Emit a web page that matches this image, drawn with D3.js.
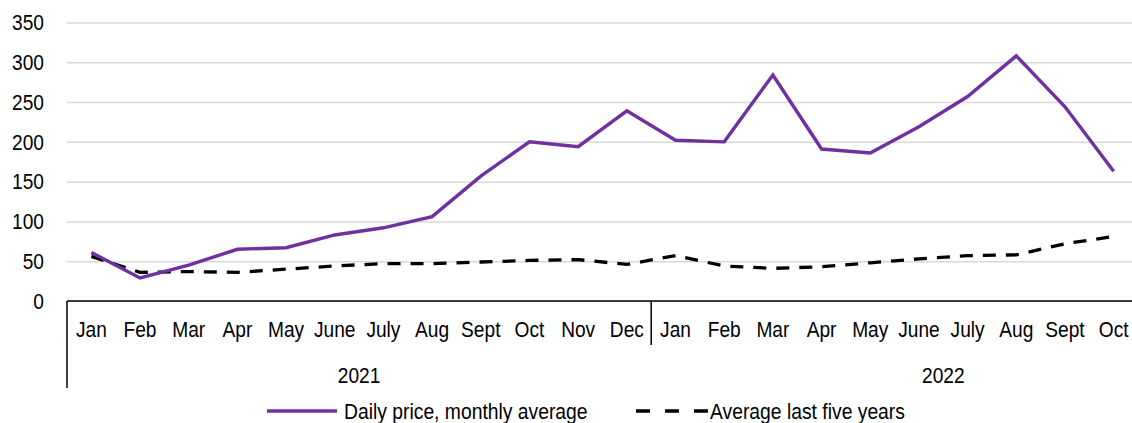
<!DOCTYPE html>
<html>
<head>
<meta charset="utf-8">
<script src="https://cdn.jsdelivr.net/npm/d3@7"></script>
<style>
  body { margin: 0; background: #fff; }
  text { font-family: "Liberation Sans", Arial, sans-serif; fill: #000; }
</style>
</head>
<body>
<div id="chart"></div>
<script>
const MONTHS = ["Jan", "Feb", "Mar", "Apr", "May", "June", "July", "Aug", "Sept", "Oct", "Nov", "Dec",
                "Jan", "Feb", "Mar", "Apr", "May", "June", "July", "Aug", "Sept", "Oct"];
const YEARS = ["2021", "2022"];
const DAILY_PRICE = [61, 29, 45, 65, 67, 83, 92, 106, 157, 200, 194, 239,
                     202, 200, 284, 191, 186, 219, 257, 308, 244, 163];
const FIVE_YEAR_AVG = [56, 36, 37, 36, 40, 44, 47, 47, 49, 51, 52, 46,
                       57, 44, 41, 43, 48, 53, 57, 58, 72, 81];
const Y_TICKS = [0, 50, 100, 150, 200, 250, 300, 350];

const W = 1132, H = 423;
const plotLeft = 67, plotRight = 1138, plotTop = 22.5, plotBottom = 301;
const SQUASH = 0.87; // text in the source looks horizontally condensed

const svg = d3.select("#chart").append("svg")
    .attr("width", W)
    .attr("height", H);

const idx = MONTHS.map((d, i) => i);
const x = d3.scaleBand().domain(idx).range([plotLeft, plotRight]).padding(0);
const xl = d3.scaleLinear().domain([0, MONTHS.length]).range([plotLeft, plotRight]);
const y = d3.scaleLinear().domain([0, 350]).range([plotBottom, plotTop]);

// gridlines + y labels
const yAxis = svg.append("g")
    .attr("transform", `translate(${plotLeft},0)`)
    .call(d3.axisLeft(y).tickValues(Y_TICKS).tickSize(-(W - plotLeft)).tickPadding(0));
yAxis.select(".domain").remove();
yAxis.selectAll(".tick line")
    .attr("stroke", "#d9d9d9")
    .attr("stroke-width", 1.5);
yAxis.selectAll(".tick text")
    .attr("x", -23 / SQUASH)
    .attr("dy", "0.33em")
    .attr("font-size", "22px")
    .attr("transform", `scale(${SQUASH},1)`);

// x axis (months)
const xAxis = svg.append("g")
    .attr("transform", `translate(0,${plotBottom})`)
    .call(d3.axisBottom(x).tickSize(0).tickFormat(i => MONTHS[i]));
xAxis.select(".domain").remove();
xAxis.selectAll(".tick text")
    .attr("y", 36.5)
    .attr("dy", 0)
    .attr("font-size", "22px")
    .attr("transform", `scale(${SQUASH},1)`);

svg.append("line")
    .attr("x1", plotLeft).attr("x2", W)
    .attr("y1", plotBottom).attr("y2", plotBottom)
    .attr("stroke", "#000").attr("stroke-width", 1.5);

// year separators
svg.append("line")
    .attr("x1", xl(0)).attr("x2", xl(0))
    .attr("y1", plotBottom).attr("y2", 388)
    .attr("stroke", "#000").attr("stroke-width", 1.5);
svg.append("line")
    .attr("x1", xl(12)).attr("x2", xl(12))
    .attr("y1", plotBottom).attr("y2", 345)
    .attr("stroke", "#000").attr("stroke-width", 1.5);

// year labels
YEARS.forEach((yr, k) => {
    svg.append("text")
        .attr("transform", `translate(${xl(12 * k + 6)},383) scale(${SQUASH},1)`)
        .attr("text-anchor", "middle")
        .attr("font-size", "22px")
        .text(yr);
});

// series
const line = d3.line()
    .x((d, i) => x(i) + x.bandwidth() / 2)
    .y(d => y(d));

svg.append("path")
    .datum(FIVE_YEAR_AVG)
    .attr("fill", "none")
    .attr("stroke", "#000")
    .attr("stroke-width", 3.3)
    .attr("stroke-dasharray", "13,10")
    .attr("d", line);

svg.append("path")
    .datum(DAILY_PRICE)
    .attr("fill", "none")
    .attr("stroke", "#70309f")
    .attr("stroke-width", 3.4)
    .attr("stroke-linejoin", "miter")
    .attr("d", line);

// legend
const legendY = 411;
svg.append("line")
    .attr("x1", 267).attr("x2", 337)
    .attr("y1", legendY).attr("y2", legendY)
    .attr("stroke", "#70309f").attr("stroke-width", 3.5);
svg.append("text")
    .attr("transform", `translate(344,419) scale(${SQUASH},1)`)
    .attr("font-size", "22.2px")
    .text("Daily price, monthly average");

svg.append("line")
    .attr("x1", 636).attr("x2", 709)
    .attr("y1", legendY).attr("y2", legendY)
    .attr("stroke", "#000").attr("stroke-width", 3.5)
    .attr("stroke-dasharray", "14,15");
svg.append("text")
    .attr("transform", `translate(710,419) scale(${SQUASH},1)`)
    .attr("font-size", "22.2px")
    .text("Average last five years");
</script>
</body>
</html>
